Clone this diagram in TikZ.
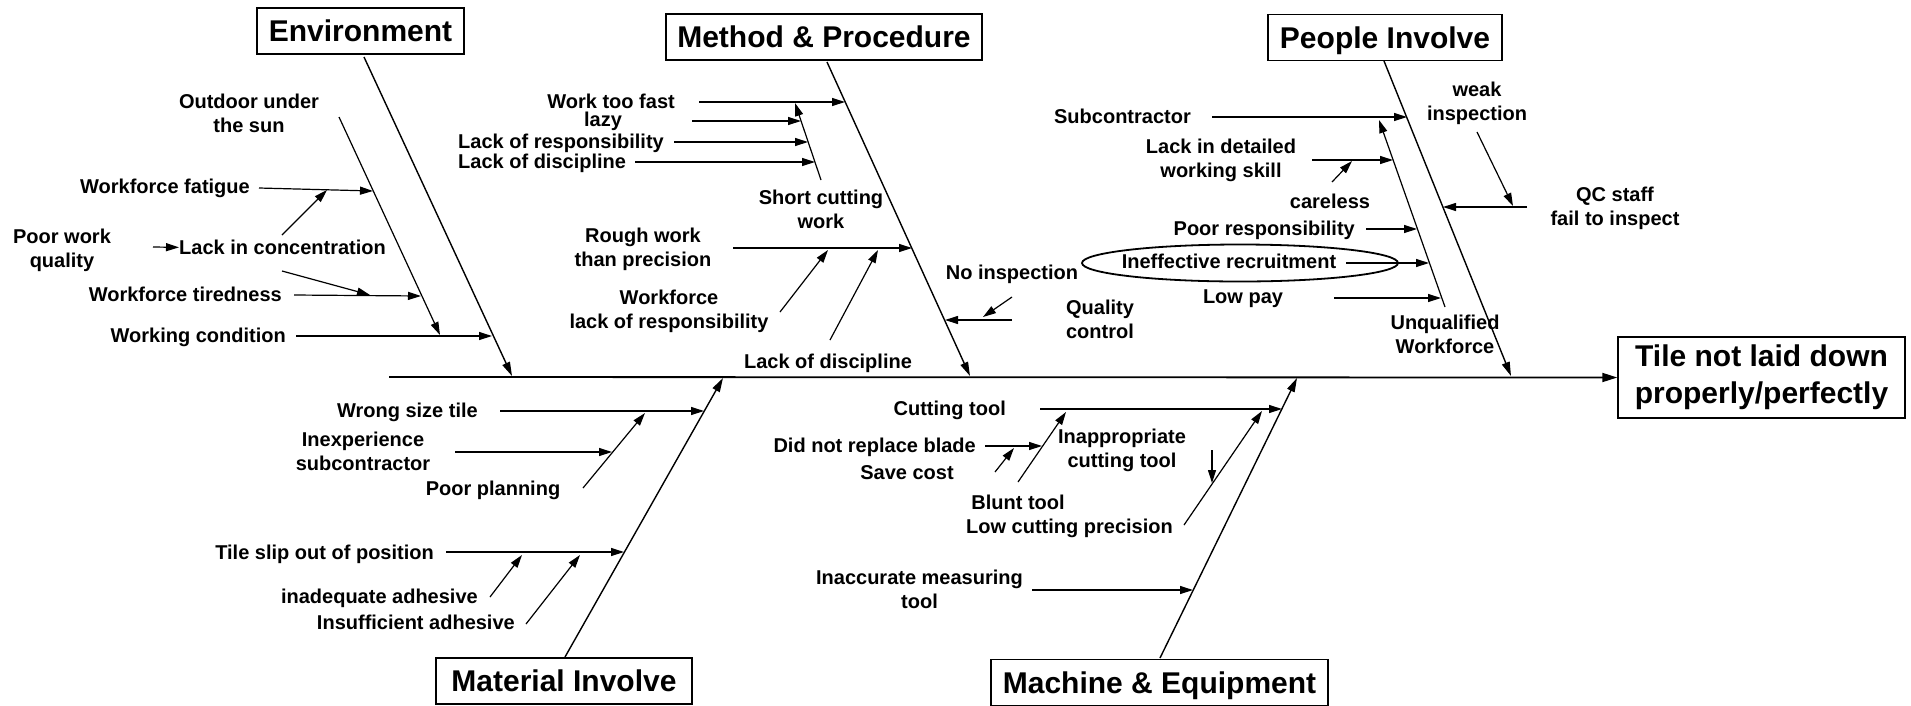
\documentclass[tikz,border=0pt]{standalone}
\usepackage{fontspec}
\setmainfont{Liberation Sans}
\usetikzlibrary{arrows.meta}

\begin{document}
\begin{tikzpicture}[x=1pt,y=-1pt,
  lbl/.style={inner sep=0pt, font=\bfseries\fontsize{20}{23.5}\selectfont},
  mlbl/.style={lbl, align=center, anchor=north},
  ttl/.style={draw, line width=1.4pt, inner sep=0pt, minimum height=46pt,
    text height=21.5pt, text depth=0pt, font=\bfseries\fontsize{30}{37}\selectfont},
  spine/.style={line width=1.8pt, -{Triangle[length=15pt,width=9pt]}},
  bone/.style={line width=1.4pt, -{Triangle[length=14pt,width=8pt]}},
  cause/.style={line width=1.2pt, -{Triangle[length=13pt,width=8pt]}}]

\useasboundingbox (0,0) rectangle (1911,705);

% effect and spine
\node[draw, line width=1.4pt, inner sep=0pt, minimum width=287pt, minimum height=81pt,
  align=center, font=\bfseries\fontsize{30}{37}\selectfont] (res) at (1761.5,377.5)
  {Tile not laid down\\properly/perfectly};
\coordinate (spL) at (389,377);
\draw[spine] (spL) -- (res.west);

% category boxes
\node[ttl, minimum width=207pt] (env)  at (360.5,31)   {Environment};
\node[ttl, minimum width=316pt] (meth) at (824,37)     {Method \& Procedure};
\node[ttl, minimum width=234pt] (ppl)  at (1385,37.5)  {People Involve};
\node[ttl, minimum width=256pt] (mat)  at (564,681)    {Material Involve};
\node[ttl, minimum width=337pt] (mach) at (1159.5,682.5) {Machine \& Equipment};

% ---------------- Environment ----------------
\coordinate (envS) at (364,57);  \coordinate (envT) at (512,376);
\draw[bone] (envS) -- (envT);
\node[mlbl] (outdoor) at (249,94) {Outdoor under\\the sun};
\node[lbl, anchor=base east] (fatigue) at (250,193.5) {Workforce fatigue};
\node[mlbl] (poorwq) at (62,229) {Poor work\\quality};
\node[lbl, anchor=base west] (concent) at (179,254.5) {Lack in concentration};
\node[lbl, anchor=base east] (tired) at (282,301.5) {Workforce tiredness};
\node[lbl, anchor=base east] (wcond) at (286,342.5) {Working condition};

\coordinate (wcA) at (296,336); \coordinate (wcB) at (492,336);
\draw[cause] (wcA) -- (wcB);
\coordinate (odA) at (339,117); \coordinate (odB) at (440,335);
\draw[cause] (odA) -- (odB);
\coordinate (fgA) at (259,188); \coordinate (fgB) at (373,191);
\draw[cause] (fgA) -- (fgB);
\coordinate (lcA) at (282,235); \coordinate (lcB) at (327,190);
\draw[cause] (lcA) -- (lcB);
\coordinate (pwA) at (153,247);
\draw[cause] (pwA) -- (concent.west);
\coordinate (ltA) at (282,271); \coordinate (ltB) at (370,295);
\draw[cause] (ltA) -- (ltB);
\coordinate (tdA) at (294,295); \coordinate (tdB) at (421,296);
\draw[cause] (tdA) -- (tdB);

% ---------------- Method & Procedure ----------------
\coordinate (mS) at (827,62); \coordinate (mT) at (970,376);
\draw[bone] (mS) -- (mT);
\node[lbl, anchor=base east] (fast) at (675,108.5) {Work too fast};
\node[lbl, anchor=base] (lazy) at (603,126.5) {lazy};
\node[lbl, anchor=base east] (lresp) at (664,148.5) {Lack of responsibility};
\node[lbl, anchor=base west] (ldisc) at (458,168.5) {Lack of discipline};
\node[mlbl] (shortcut) at (821,190) {Short cutting\\work};
\node[mlbl] (rough) at (643,228) {Rough work\\than precision};
\node[mlbl] (wlr) at (669,290) {Workforce\\lack of responsibility};
\node[lbl, anchor=base] (ldisc2) at (828,368.5) {Lack of discipline};
\node[lbl, anchor=base] (noinsp) at (1012,279.5) {No inspection};
\node[mlbl] (qc) at (1100,300) {Quality\\control};

\coordinate (faA) at (699,102); \coordinate (faB) at (845,102);
\draw[cause] (faA) -- (faB);
\coordinate (scA) at (821,180); \coordinate (scB) at (795,103);
\draw[cause] (scA) -- (scB);
\coordinate (lzA) at (692,121); \coordinate (lzB) at (801,121);
\draw[cause] (lzA) -- (lzB);
\coordinate (lrA) at (674,142); \coordinate (lrB) at (808,142);
\draw[cause] (lrA) -- (lrB);
\coordinate (ldA) at (635,162); \coordinate (ldB) at (815,162);
\draw[cause] (ldA) -- (ldB);
\coordinate (rgA) at (733,248); \coordinate (rgB) at (912,248);
\draw[cause] (rgA) -- (rgB);
\coordinate (wlA) at (780,312); \coordinate (wlB) at (828,250);
\draw[cause] (wlA) -- (wlB);
\coordinate (d2A) at (830,340); \coordinate (d2B) at (878,250);
\draw[cause] (d2A) -- (d2B);
\coordinate (qcA) at (1012,320); \coordinate (qcB) at (945,320);
\draw[cause] (qcA) -- (qcB);
\coordinate (niA) at (1012,297); \coordinate (niB) at (983,317);
\draw[cause] (niA) -- (niB);

% ---------------- People Involve ----------------
\coordinate (pS) at (1384,61); \coordinate (pT) at (1511,376);
\draw[bone] (pS) -- (pT);
\node[lbl, anchor=base east] (subc) at (1191,123.5) {Subcontractor};
\node[mlbl] (ldws) at (1221,139) {Lack in detailed\\working skill};
\node[lbl, anchor=base] (careless) at (1330,208.5) {careless};
\node[lbl, anchor=base east] (presp) at (1355,235.5) {Poor responsibility};
\node[lbl, anchor=base] (ineff) at (1229,268.5) {Ineffective recruitment};
\node[lbl, anchor=base] (lowpay) at (1243,303.5) {Low pay};
\node[mlbl] (unq) at (1445,315) {Unqualified\\Workforce};
\node[mlbl] (weak) at (1477,82) {weak\\inspection};
\node[mlbl] (qcs) at (1615,187) {QC staff\\fail to inspect};

\draw[line width=1.8pt] (1240,263) ellipse [x radius=158, y radius=18.5];

\coordinate (sbA) at (1212,117); \coordinate (sbB) at (1407,117);
\draw[cause] (sbA) -- (sbB);
\coordinate (uqA) at (1445,307); \coordinate (uqB) at (1379,120);
\draw[cause] (uqA) -- (uqB);
\coordinate (dwA) at (1312,160); \coordinate (dwB) at (1393,160);
\draw[cause] (dwA) -- (dwB);
\coordinate (clA) at (1332,182); \coordinate (clB) at (1352,161);
\draw[cause] (clA) -- (clB);
\coordinate (prA) at (1366,229); \coordinate (prB) at (1417,229);
\draw[cause] (prA) -- (prB);
\coordinate (irA) at (1346,263); \coordinate (irB) at (1429,263);
\draw[cause] (irA) -- (irB);
\coordinate (lpA) at (1334,298); \coordinate (lpB) at (1441,298);
\draw[cause] (lpA) -- (lpB);
\coordinate (wkA) at (1477,132); \coordinate (wkB) at (1513,206);
\draw[cause] (wkA) -- (wkB);
\coordinate (qsA) at (1527,207); \coordinate (qsB) at (1443,207);
\draw[cause] (qsA) -- (qsB);

% ---------------- Material Involve ----------------
\coordinate (matS) at (565,657); \coordinate (matT) at (723,378);
\draw[bone] (matS) -- (matT);
\node[lbl, anchor=base east] (wst) at (478,417.5) {Wrong size tile};
\node[mlbl] (inexp) at (363,432) {Inexperience\\subcontractor};
\node[lbl, anchor=base] (plan) at (493,495.5) {Poor planning};
\node[lbl, anchor=base east] (slip) at (434,559.5) {Tile slip out of position};
\node[lbl, anchor=base east] (inadq) at (478,603.5) {inadequate adhesive};
\node[lbl, anchor=base east] (insuf) at (515,629.5) {Insufficient adhesive};

\coordinate (wsA) at (500,411); \coordinate (wsB) at (704,411);
\draw[cause] (wsA) -- (wsB);
\coordinate (ppA) at (583,488); \coordinate (ppB) at (645,413);
\draw[cause] (ppA) -- (ppB);
\coordinate (ieA) at (455,452); \coordinate (ieB) at (612,452);
\draw[cause] (ieA) -- (ieB);
\coordinate (tsA) at (446,552); \coordinate (tsB) at (624,552);
\draw[cause] (tsA) -- (tsB);
\coordinate (iaA) at (490,597); \coordinate (iaB) at (522,555);
\draw[cause] (iaA) -- (iaB);
\coordinate (isA) at (526,624); \coordinate (isB) at (580,555);
\draw[cause] (isA) -- (isB);

% ---------------- Machine & Equipment ----------------
\coordinate (mcS) at (1160,658); \coordinate (mcT) at (1297,378);
\draw[bone] (mcS) -- (mcT);
\node[lbl, anchor=base east] (ctool) at (1006,415.5) {Cutting tool};
\node[lbl, anchor=base east] (blade) at (976,452.5) {Did not replace blade};
\node[lbl, anchor=base] (save) at (907,479.5) {Save cost};
\node[mlbl] (inapp) at (1122,429) {Inappropriate\\cutting tool};
\node[lbl, anchor=base] (blunt) at (1018,509.5) {Blunt tool};
\node[lbl, anchor=base] (lowcut) at (1069.5,533.5) {Low cutting precision};
\node[mlbl] (inacc) at (919.5,570) {Inaccurate measuring\\tool};

\coordinate (ctA) at (1040,409); \coordinate (ctB) at (1282,409);
\draw[cause] (ctA) -- (ctB);
\coordinate (apA) at (1018,482); \coordinate (apB) at (1066,412);
\draw[cause] (apA) -- (apB);
\coordinate (blA) at (985,446); \coordinate (blB) at (1042,446);
\draw[cause] (blA) -- (blB);
\coordinate (svA) at (995,472); \coordinate (svB) at (1014,448);
\draw[cause] (svA) -- (svB);
\coordinate (lcpA) at (1184,525); \coordinate (lcpB) at (1262,411);
\draw[cause] (lcpA) -- (lcpB);
\coordinate (vtA) at (1212,450); \coordinate (vtB) at (1212,483);
\draw[cause] (vtA) -- (vtB);
\coordinate (imA) at (1032,590); \coordinate (imB) at (1193,590);
\draw[cause] (imA) -- (imB);

\end{tikzpicture}
\end{document}
